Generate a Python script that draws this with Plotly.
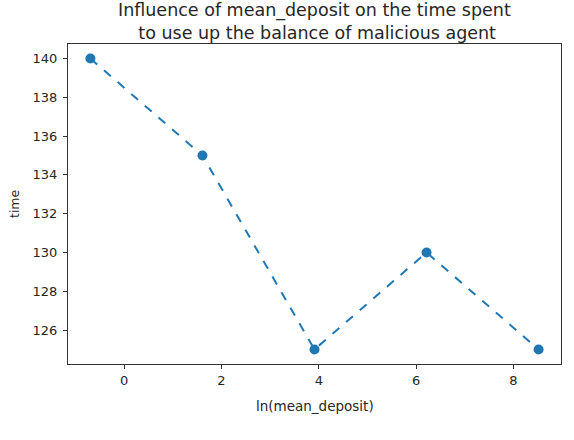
import numpy as np
import plotly.graph_objects as go

# mean_deposit values and the resulting time
mean_deposit = [0.5, 5, 50, 500, 5000]
ln_deposit = np.log(mean_deposit).tolist()
time_spent = [140, 135, 125, 130, 125]

x_ticks = [0, 2, 4, 6, 8]
y_ticks = [126, 128, 130, 132, 134, 136, 138, 140]

BLUE = "#1f77b4"
TEXT = "#262626"
FONT = "DejaVu Sans"

fig = go.Figure()
fig.add_trace(go.Scatter(
    x=ln_deposit, y=time_spent, mode="lines+markers",
    line=dict(color=BLUE, width=2, dash="dash"),
    marker=dict(color=BLUE, size=10),
    showlegend=False,
))

# matplotlib-like 5% padding
xpad = (max(ln_deposit) - min(ln_deposit)) * 0.05
ypad = (max(time_spent) - min(time_spent)) * 0.05

axis_common = dict(
    showgrid=False, zeroline=False, showline=True, mirror=True,
    linecolor="#333333", linewidth=1, ticks="outside", ticklen=4,
    tickcolor="#333333", tickfont=dict(size=13, color=TEXT),
)
fig.update_xaxes(range=[min(ln_deposit) - xpad, max(ln_deposit) + xpad],
                 tickvals=x_ticks, **axis_common)
fig.update_yaxes(range=[min(time_spent) - ypad, max(time_spent) + ypad],
                 tickvals=y_ticks, ticklabelstandoff=3, **axis_common)

# title and axis labels as annotations for exact placement
fig.add_annotation(
    text="Influence of mean_deposit on the time spent<br> to use up the balance of malicious agent",
    xref="paper", yref="paper", x=0.5, y=1, xanchor="center", yanchor="bottom",
    yshift=-1, showarrow=False, font=dict(size=17.5, color=TEXT),
)
fig.add_annotation(
    text="ln(mean_deposit)", xref="paper", yref="paper", x=0.5, y=0,
    xanchor="center", yanchor="middle", yshift=-42, showarrow=False,
    font=dict(size=13.5, color=TEXT),
)
fig.add_annotation(
    text="time", textangle=-90, xref="paper", yref="paper", x=0, y=0.5,
    xanchor="center", yanchor="middle", xshift=-54, showarrow=False,
    font=dict(size=12.5, color=TEXT),
)

fig.update_layout(
    width=574, height=440,
    margin=dict(l=68, r=13, t=44, b=76),
    paper_bgcolor="white", plot_bgcolor="white",
    font=dict(family=FONT, color=TEXT),
)

# drop the default 8px page margin so the title is not clipped at the top
fig.write_html("out.html", config={"displayModeBar": False},
               post_script="document.body.style.margin = '0';")
